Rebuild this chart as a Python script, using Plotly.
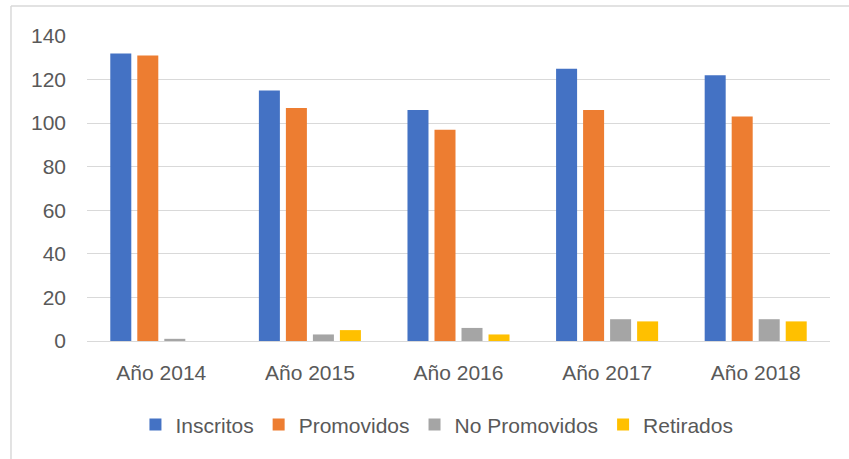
import plotly.graph_objects as go

categories = ["Año 2014", "Año 2015", "Año 2016", "Año 2017", "Año 2018"]
inscritos = [132, 115, 106, 125, 122]
promovidos = [131, 107, 97, 106, 103]
no_promovidos = [1, 3, 6, 10, 10]
retirados = [0, 5, 3, 9, 9]

series = [
    ("Inscritos", inscritos, "#4472C4"),
    ("Promovidos", promovidos, "#ED7D31"),
    ("No Promovidos", no_promovidos, "#A5A5A5"),
    ("Retirados", retirados, "#FFC000"),
]

fig = go.Figure()
for name, vals, color in series:
    fig.add_trace(go.Bar(x=categories, y=vals, name=name, marker_color=color,
                         marker_line_width=0))

font_family = "Liberation Sans, Arial, sans-serif"
fig.update_layout(
    width=849, height=459,
    margin=dict(l=87, r=19, t=36, b=118),
    paper_bgcolor="white", plot_bgcolor="white",
    barmode="group", bargap=0.273, bargroupgap=0.222,
    font=dict(family=font_family, size=21, color="#595959"),
    showlegend=True,
    legend=dict(orientation="h", x=0.471, xanchor="center", y=-0.275, yanchor="middle",
                font=dict(size=21, color="#595959"), itemwidth=30, traceorder="normal"),
    xaxis=dict(showgrid=False, showline=True, linecolor="#d9d9d9", linewidth=1,
               ticks="", ticklabelstandoff=13, tickfont=dict(size=21)),
    yaxis=dict(range=[0, 140], dtick=20, showgrid=True, gridcolor="#d9d9d9", gridwidth=1,
               zeroline=False, showline=False, ticks="", ticklabelstandoff=20,
               tickfont=dict(size=21)),
    shapes=[
        dict(type="line", xref="paper", yref="paper", x0=-0.1023, x1=-0.1023, y0=-0.39, y1=1.098,
             line=dict(color="#d9d9d9", width=1.5)),
        dict(type="line", xref="paper", yref="paper", x0=-0.1023, x1=1.03, y0=1.098, y1=1.098,
             line=dict(color="#d9d9d9", width=1.5)),
    ],
)

fig.write_html("out.html", config={"displayModeBar": False},
               post_script="document.body.style.margin='0';")
